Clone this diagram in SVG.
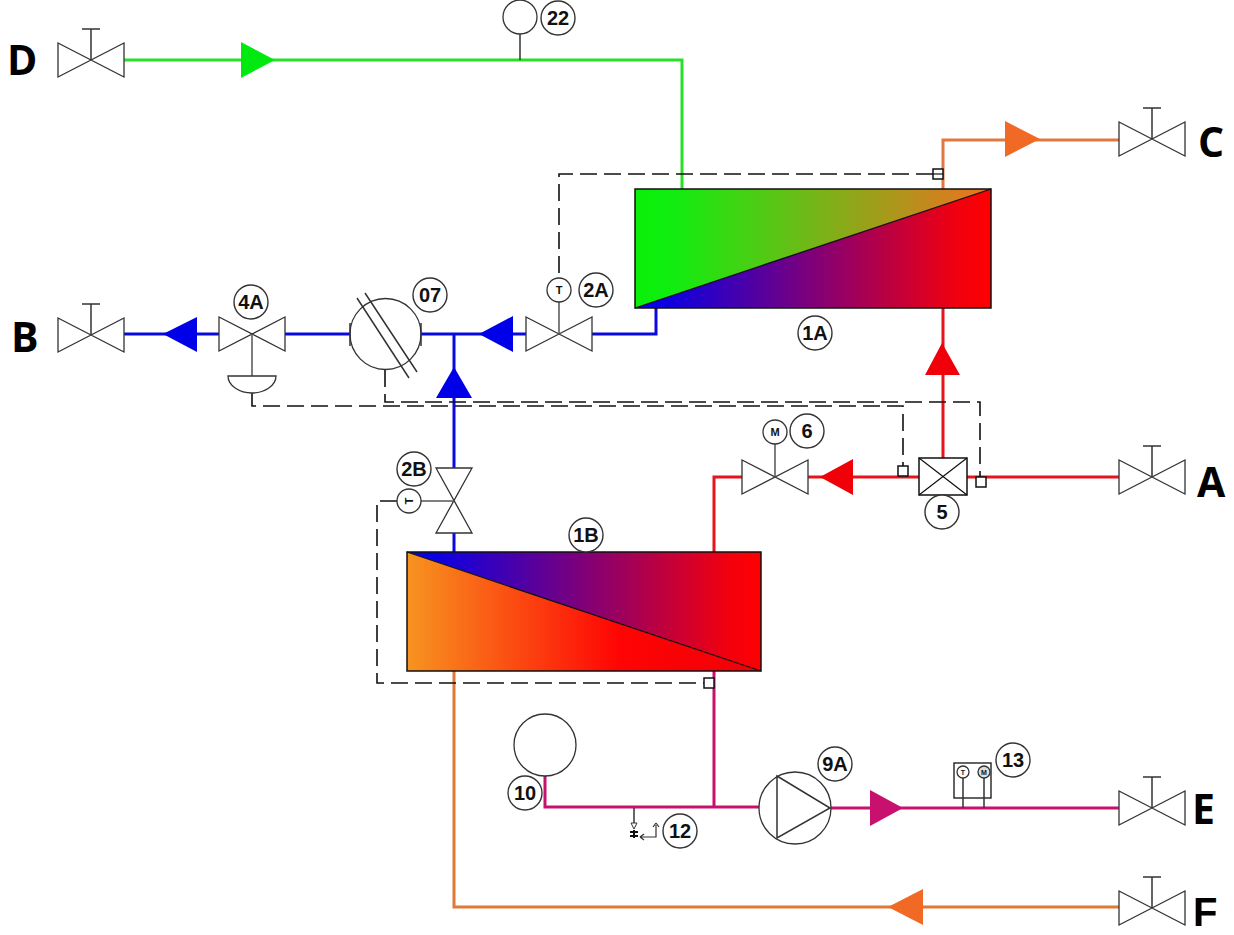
<svg xmlns="http://www.w3.org/2000/svg" width="1234" height="935" viewBox="0 0 1234 935">
<style>
text{font-family:"Liberation Sans",Arial,sans-serif;font-weight:700;fill:#111;text-anchor:middle}
.big{font-family:"Open Sans","Liberation Sans",sans-serif;font-size:41px;fill:#000;text-anchor:start}
.tag{font-size:20px}
.mini{font-size:11px}
.o{fill:#fff;stroke:#333;stroke-width:1.3}
.n{fill:none;stroke:#333;stroke-width:1.5}
.g{fill:none;stroke:#555;stroke-width:1.5}
.p{fill:none;stroke-width:3}
.dash{fill:none;stroke:#111;stroke-width:1.6;stroke-dasharray:17 7}
.box{fill:#fff;stroke:#111;stroke-width:1.5}
.ex{stroke:#111;stroke-width:1.2}
</style>
<defs>
<linearGradient id="g1"><stop offset="0" stop-color="#08f008"/><stop offset=".1" stop-color="#10ee10"/><stop offset="1" stop-color="#f07020"/></linearGradient>
<linearGradient id="b1"><stop offset="0" stop-color="#0000f0"/><stop offset=".1" stop-color="#1000e0"/><stop offset=".9" stop-color="#f00010"/><stop offset="1" stop-color="#ff0000"/></linearGradient>
<linearGradient id="o1"><stop offset="0" stop-color="#f79420"/><stop offset=".6" stop-color="#ff0404"/><stop offset="1" stop-color="#f00008"/></linearGradient>
<g id="valveH"><path class="o" d="M-33-17V17L33-17V17Z"/></g>
<g id="valveS"><path class="o" d="M-33-17V17L33-17V17Z"/><path class="n" d="M0 0V-31M-9-31H9"/></g>
<circle id="tagc" r="17" fill="#fff" stroke="#333" stroke-width="1.4"/>
</defs>

<g id="connectors">
<path class="p" stroke="#28e028" d="M124 60H682V189"/>
<path class="p" stroke="#e07840" d="M943 189V140H1119"/>
<path class="p" stroke="#0a0ae0" d="M124 334H219M285 334H350M421 334H527M592 334H656V308M454 334V468M454 533V552"/>
<path class="p" stroke="#e8141c" d="M1119 477H967M919 477H808M742 477H714V552M943 458V308"/>
<path class="p" stroke="#c8106e" d="M545 776V807H759M714 671V807M831 808H1119"/>
<path class="p" stroke="#e07838" d="M454 671V907H1119"/>
<path class="n" d="M520 34V60"/>
<path class="dash" d="M933 174H559V278"/>
<path class="dash" d="M385 370V402H980V477"/>
<path class="dash" d="M252 393V406H903V466"/>
<path class="dash" d="M397 501H377V683H704"/>
<path fill="#00ea10" d="M241 42V78L275 60Z"/>
<path fill="#f06a25" d="M1005 121V157L1040 139Z"/>
<path fill="#0000e8" d="M197 317V352L163 334ZM513 316V352L479 334ZM436 398H472L454 367Z"/>
<path fill="#f00008" d="M853 459V495L820 477ZM925 375H960L942 343Z"/>
<path fill="#c8106e" d="M870 790V826L903 808Z"/>
<path fill="#f06a25" d="M923 889V925L888 907Z"/>
</g>

<g id="label-D"><text class="big" x="7" y="75">D</text></g>
<g id="label-C"><text class="big" x="1198" y="157">C</text></g>
<g id="label-B"><text class="big" x="11" y="352">B</text></g>
<g id="label-A"><text class="big" x="1197" y="497">A</text></g>
<g id="label-E"><text class="big" x="1192" y="824">E</text></g>
<g id="label-F"><text x="1193" y="926" style="font-size:40px;fill:#000;text-anchor:start">F</text></g>

<g id="valve-D"><use href="#valveS" x="91" y="60"/></g>
<g id="valve-B"><use href="#valveS" x="91" y="335"/></g>
<g id="valve-C"><use href="#valveS" x="1152" y="139"/></g>
<g id="valve-A"><use href="#valveS" x="1152" y="477"/></g>
<g id="valve-E"><use href="#valveS" x="1152" y="808"/></g>
<g id="valve-F"><use href="#valveS" x="1152" y="908"/></g>

<g id="gauge-22">
<circle class="o" cx="520" cy="17" r="17"/>
<use href="#tagc" x="558" y="18"/><text class="tag" x="558" y="25">22</text>
</g>

<g id="exchanger-1A">
<rect x="635" y="189" width="356" height="119" fill="#f00"/>
<path fill="url(#g1)" d="M635 189H991L635 308Z"/>
<path fill="url(#b1)" d="M991 189V308H635Z"/>
<rect x="635" y="189" width="356" height="119" fill="none" stroke="#111" stroke-width="1.5"/>
<path stroke="#111" stroke-width="1.3" d="M635 308L991 189"/>
<use href="#tagc" x="815" y="333"/><text class="tag" x="815" y="340">1A</text>
</g>

<g id="exchanger-1B">
<path fill="url(#b1)" d="M407 552H761V671Z"/>
<path fill="url(#o1)" d="M407 552L761 671H407Z"/>
<rect x="407" y="552" width="354" height="119" fill="none" stroke="#111" stroke-width="1.5"/>
<path stroke="#111" stroke-width="1.3" d="M407 552L761 671"/>
<use href="#tagc" x="586" y="535"/><text class="tag" x="586" y="542">1B</text>
</g>

<g id="valve-4A">
<use href="#valveH" x="252" y="334"/>
<path class="g" d="M252 334V376"/>
<path class="o" d="M228 376H276C276 386 264 393 252 393C240 393 228 386 228 376Z"/>
<use href="#tagc" x="251" y="302"/><text class="tag" x="251" y="309">4A</text>
</g>

<g id="filter-07">
<circle class="o" cx="385.500" cy="334" r="35.500"/>
<path class="n" d="M357 298L409 378M365 293L417 372M350 323V346M421 323V346"/>
<use href="#tagc" x="430" y="295"/><text class="tag" x="430" y="302">07</text>
</g>

<g id="valve-2A">
<use href="#valveH" x="559" y="334"/>
<path class="g" d="M559 302V334"/>
<circle class="o" cx="559" cy="290" r="12"/><text class="mini" x="559" y="294">T</text>
<use href="#tagc" x="596" y="290"/><text class="tag" x="596" y="297">2A</text>
</g>

<g id="valve-2B">
<path class="o" d="M436 468H472L436 533H472Z"/>
<path class="g" d="M421 501H454"/>
<circle class="o" cx="409" cy="501" r="12"/><text class="mini" transform="translate(413 501) rotate(-90)">T</text>
<use href="#tagc" x="414" y="469"/><text class="tag" x="414" y="476">2B</text>
</g>

<g id="valve-6">
<use href="#valveH" x="775" y="477"/>
<path class="g" d="M775 444V477"/>
<circle class="o" cx="775" cy="432" r="12"/><text class="mini" x="775" y="436">M</text>
<use href="#tagc" x="807" y="431"/><text class="tag" x="807" y="438">6</text>
</g>

<g id="damper-5">
<rect x="919" y="458" width="48" height="37" class="box"/>
<path class="ex" d="M919 458L967 495M967 458L919 495"/>
<use href="#tagc" x="942" y="512"/><text class="tag" x="942" y="519">5</text>
</g>

<g id="sensor-boxes">
<rect x="933" y="169" width="10" height="10" class="box"/><path class="ex" d="M933 174H943"/>
<rect x="898" y="466" width="10" height="10" class="box"/>
<rect x="976" y="477" width="10" height="10" class="box"/>
<rect x="704" y="678" width="10" height="10" class="box"/>
</g>

<g id="tank-10">
<circle class="o" cx="545" cy="745" r="31"/>
<use href="#tagc" x="525" y="793"/><text class="tag" x="525" y="800">10</text>
</g>

<g id="drain-12">
<path class="n" d="M634 808V823"/>
<path class="n" style="stroke-width:1" d="M631 823H637L634 829Z"/>
<path class="n" style="stroke:#111;stroke-width:2" d="M630 832H638M630 836H638M634 830V838"/>
<path class="n" style="stroke-width:1.200" d="M640 837H656V825M640 837L644 834M640 837L644 840M656 823L653 827M656 823L659 827"/>
<use href="#tagc" x="680" y="831"/><text class="tag" x="680" y="838">12</text>
</g>

<g id="pump-9A">
<circle class="o" cx="795" cy="808" r="36"/>
<path class="n" d="M777 776L830 808L777 838Z"/>
<use href="#tagc" x="835" y="764"/><text class="tag" x="835" y="771">9A</text>
</g>

<g id="instrument-13">
<rect x="954" y="763" width="37" height="35" fill="#fff" stroke="#222" stroke-width="1.4"/>
<path class="n" d="M963 778V808M984 778V808"/>
<circle class="o" cx="963" cy="772" r="6"/><circle class="o" cx="984" cy="772" r="6" style="fill:#ddd"/>
<text x="963" y="775" style="font-size:7px">T</text><text x="984" y="775" style="font-size:7px">M</text>
<use href="#tagc" x="1013" y="760"/><text class="tag" x="1013" y="767">13</text>
</g>
</svg>
